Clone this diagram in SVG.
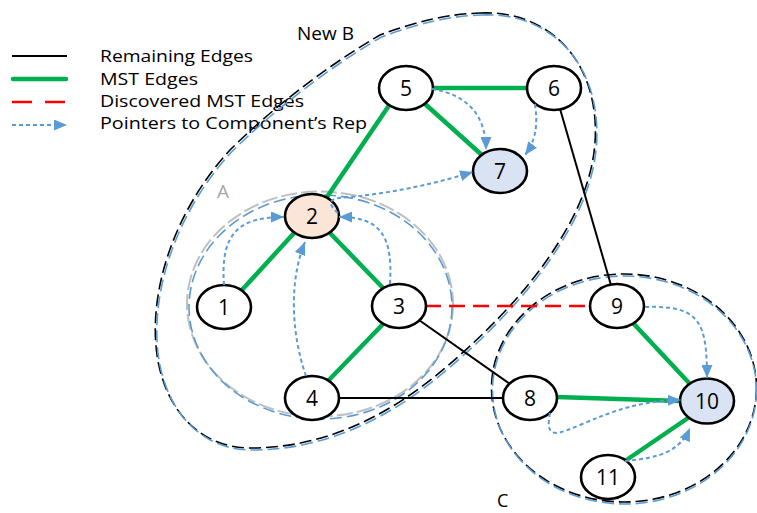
<svg xmlns="http://www.w3.org/2000/svg" width="757" height="513" viewBox="0 0 757 513">
  <style>
    .region { fill: none; stroke-width: 1.6; }
    .region-black { stroke: #000; stroke-dasharray: 12 5; }
    .region-blue { stroke: #5B9BD5; stroke-dasharray: 12 5; }
    .region-gray { stroke: #BFBFBF; stroke-width: 2; stroke-dasharray: 16 4; }
    .edge { fill: none; stroke: #000; stroke-width: 2; }
    .mst { fill: none; stroke: #00B050; stroke-width: 4.5; stroke-linecap: round; }
    .found { fill: none; stroke: #FF0000; stroke-width: 2.5; stroke-dasharray: 16 8; }
    .ptr { fill: none; stroke: #5B9BD5; stroke-width: 2; stroke-dasharray: 4 3; marker-end: url(#arrow); }
    .node ellipse { fill: #fff; stroke: #000; stroke-width: 2.6; }
    .node text, .label, .legend text { font-family: "Open Sans", "Liberation Sans", sans-serif; fill: #000; }
    .node text { font-size: 21px; text-anchor: middle; }
    .legend text { font-size: 16px; }
    .label { font-size: 19px; }
  </style>
  <defs>
    <marker id="arrow" markerUnits="userSpaceOnUse" markerWidth="13" markerHeight="11" refX="13" refY="5.5" orient="auto">
      <path d="M0,0 L13,5.5 L0,11 z" fill="#5B9BD5"/>
    </marker>
  </defs>

  <rect width="757" height="513" fill="#fff"/>

  <!-- legend -->
  <g id="legend" class="legend">
    <line x1="12" y1="56" x2="67" y2="56" stroke="#000" stroke-width="2"/>
    <line x1="13" y1="79" x2="66" y2="79" stroke="#00B050" stroke-width="4.5" stroke-linecap="round"/>
    <line x1="12" y1="102" x2="67" y2="102" stroke="#FF0000" stroke-width="2.5" stroke-dasharray="20 13"/>
    <line x1="12" y1="125" x2="67" y2="125" stroke="#5B9BD5" stroke-width="2" stroke-dasharray="4 3" marker-end="url(#arrow)"/>
    <text x="100" y="62" textLength="153" lengthAdjust="spacingAndGlyphs">Remaining Edges</text>
    <text x="100" y="85" textLength="98" lengthAdjust="spacingAndGlyphs">MST Edges</text>
    <text x="100" y="107" textLength="204" lengthAdjust="spacingAndGlyphs">Discovered MST Edges</text>
    <text x="100" y="129" textLength="267" lengthAdjust="spacingAndGlyphs">Pointers to Component’s Rep</text>
  </g>

  <!-- component outlines -->
  <g id="region-B">
    <path id="b-outline" class="region region-black" d="M480,13 C540,10 590,50 595,120 C598,160 585,200 560,240 C530,290 480,340 433,378 C380,420 320,448 250,448 C200,448 165,410 157,355 C148,290 175,210 230,150 C265,115 320,70 380,35 C420,20 450,14 480,13 Z"/>
    <path class="region region-blue" transform="translate(1.5,2)" d="M480,13 C540,10 590,50 595,120 C598,160 585,200 560,240 C530,290 480,340 433,378 C380,420 320,448 250,448 C200,448 165,410 157,355 C148,290 175,210 230,150 C265,115 320,70 380,35 C420,20 450,14 480,13 Z"/>
    <text class="label" x="297" y="40">New B</text>
  </g>
  <g id="region-A">
    <ellipse class="region region-gray" cx="320" cy="304" rx="133" ry="112.5"/>
    <ellipse class="region region-blue" cx="320.5" cy="307" rx="131.5" ry="112"/>
    <text class="label" x="217" y="198" style="fill:#A6A6A6">A</text>
  </g>
  <g id="region-C">
    <ellipse class="region region-black" cx="624" cy="388" rx="132.5" ry="114"/>
    <ellipse class="region region-blue" cx="624.5" cy="390" rx="132" ry="114"/>
    <text class="label" x="497" y="507" style="font-size:18px">C</text>
  </g>

  <!-- connectors -->
  <g id="connectors">
    <line class="edge" x1="399" y1="306" x2="530" y2="398"/>
    <line class="edge" x1="312" y1="398" x2="530" y2="398"/>
    <line class="edge" x1="554" y1="88" x2="617" y2="306"/>
    <line class="found" x1="425" y1="306" x2="590" y2="306"/>
    <line class="mst" x1="241" y1="291" x2="295" y2="232"/>
    <line class="mst" x1="329" y1="232" x2="384" y2="289"/>
    <line class="mst" x1="384" y1="323" x2="328" y2="381"/>
    <line class="mst" x1="327" y1="197" x2="390" y2="104"/>
    <line class="mst" x1="432" y1="88" x2="528" y2="88"/>
    <line class="mst" x1="424" y1="103" x2="483" y2="156"/>
    <line class="mst" x1="633" y1="323" x2="690" y2="384"/>
    <line class="mst" x1="557" y1="397" x2="680" y2="401"/>
    <line class="mst" x1="625" y1="461" x2="688" y2="418"/>
  </g>

  <!-- nodes -->
  <g id="node-1" class="node"><ellipse cx="224" cy="307" rx="27" ry="22"/><text x="224" y="314.5">1</text></g>
  <g id="node-2" class="node"><ellipse cx="312" cy="216" rx="27" ry="22" style="fill:#FBE5D6"/><text x="312" y="223.5">2</text></g>
  <g id="node-3" class="node"><ellipse cx="399" cy="306" rx="27" ry="22"/><text x="399" y="313.5">3</text></g>
  <g id="node-4" class="node"><ellipse cx="312" cy="398" rx="27" ry="22"/><text x="312" y="405.5">4</text></g>
  <g id="node-5" class="node"><ellipse cx="406" cy="88" rx="27" ry="22"/><text x="406" y="95.5">5</text></g>
  <g id="node-6" class="node"><ellipse cx="554" cy="88" rx="27" ry="22"/><text x="554" y="95.5">6</text></g>
  <g id="node-7" class="node"><ellipse cx="500" cy="171" rx="27" ry="22" style="fill:#DAE3F3"/><text x="500" y="178.5">7</text></g>
  <g id="node-8" class="node"><ellipse cx="530" cy="398" rx="27" ry="22"/><text x="530" y="405.5">8</text></g>
  <g id="node-9" class="node"><ellipse cx="617" cy="306" rx="27" ry="22"/><text x="617" y="313.5">9</text></g>
  <g id="node-10" class="node"><ellipse cx="707" cy="401" rx="27" ry="22.5" style="fill:#DAE3F3"/><text x="707" y="408.5">10</text></g>
  <g id="node-11" class="node"><ellipse cx="608" cy="477" rx="27" ry="22"/><text x="608" y="484.5">11</text></g>

  <!-- pointers to each component's representative -->
  <g id="pointers">
    <path class="ptr" d="M224,285 C220,232 240,217 284,217"/>
    <path class="ptr" d="M390,284 C393,235 380,217 339,217"/>
    <path class="ptr" d="M306,376 C290,330 290,278 305,242"/>
    <path class="ptr" d="M338,213 C325,201 330,198 350,197 C400,192 440,182 473,172"/>
    <path class="ptr" d="M432,89 C470,95 486,118 486,150"/>
    <path class="ptr" d="M535,104 C538,125 536,140 525,155"/>
    <path class="ptr" d="M645,307 C700,305 707,322 707,378"/>
    <path class="ptr" d="M550,413 C544,442 560,433 580,425 C615,410 640,401 681,400"/>
    <path class="ptr" d="M625,461 C660,458 680,451 690,428"/>
  </g>
</svg>
